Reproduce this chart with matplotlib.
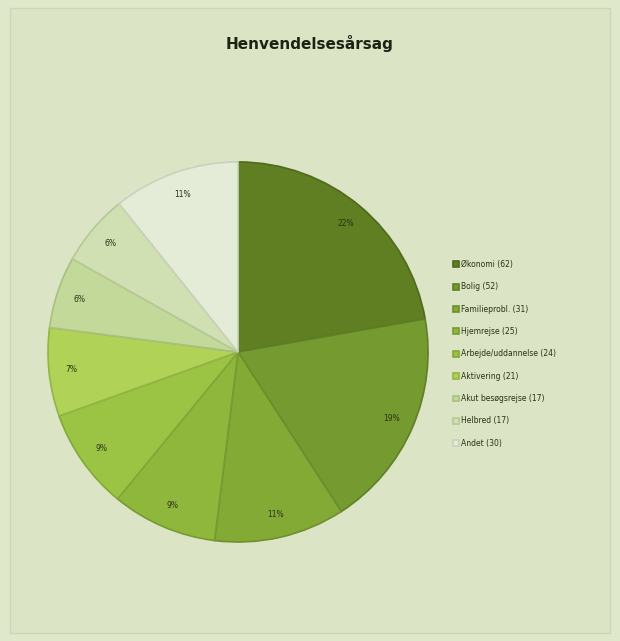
import numpy as np
import matplotlib.pyplot as plt
from matplotlib.patches import Rectangle

# data ------------------------------------------------------------------
categories = ['Økonomi (62)', 'Bolig (52)', 'Familieprobl. (31)', 'Hjemrejse (25)',
              'Arbejde/uddannelse (24)', 'Aktivering (21)', 'Akut besøgsrejse (17)',
              'Helbred (17)', 'Andet (30)']
values = [62, 52, 31, 25, 24, 21, 17, 17, 30]
pct_labels = ['22%', '19%', '11%', '9%', '9%', '7%', '6%', '6%', '11%']

colors = ['#5f7f22', '#759a30', '#84aa36', '#8fb73c', '#9cc444',
          '#b0d256', '#c3d99a', '#d1e0b2', '#e4ebd6']
edges = ['#4e6a1a', '#5f8026', '#6d8f2c', '#779a32', '#82a838',
         '#93b446', '#a9c07f', '#b7c898', '#c9d2ba']

fig = plt.figure(figsize=(6.2, 6.41), dpi=100)
fig.patch.set_facecolor('#dfe8cb')
fig.add_artist(Rectangle((10 / 620, 8 / 641), 600 / 620, 625 / 641,
                         transform=fig.transFigure, facecolor='#dbe4c4',
                         edgecolor='#ccd6b4', lw=1, zorder=-5))

ax = fig.add_axes([0.0774, 0.1544, 0.613, 0.593])
ax.patch.set_visible(False)
wedges, texts = ax.pie(values, colors=colors, startangle=90, counterclock=False,
                       wedgeprops=dict(linewidth=1.2))
for w, ec in zip(wedges, edges):
    w.set_edgecolor(ec)

# percent labels
total = sum(values)
ang = 90.0
for v, lab in zip(values, pct_labels):
    mid = np.deg2rad(ang - v / total * 180.0)
    ax.text(0.88 * np.cos(mid), 0.88 * np.sin(mid), lab, ha='center', va='center',
            fontsize=5.5, color='#2a3018')
    ang -= v / total * 360.0
ax.set_aspect('equal')
ax.set_xlim(-1, 1)
ax.set_ylim(-1, 1)

fig.text(310 / 620, 1 - 43 / 641, 'Henvendelsesårsag', ha='center', va='center',
         fontsize=11, fontweight='bold', color='#1e2214')

leg = fig.legend(wedges, categories, loc='upper left',
                 bbox_to_anchor=(446 / 620, 1 - 253 / 641), frameon=False,
                 fontsize=5.5, labelspacing=1.75, handlelength=0.8, handleheight=0.8,
                 handletextpad=0.3, labelcolor='#2a3018')

fig.savefig('out.png', dpi=100, facecolor=fig.get_facecolor())
